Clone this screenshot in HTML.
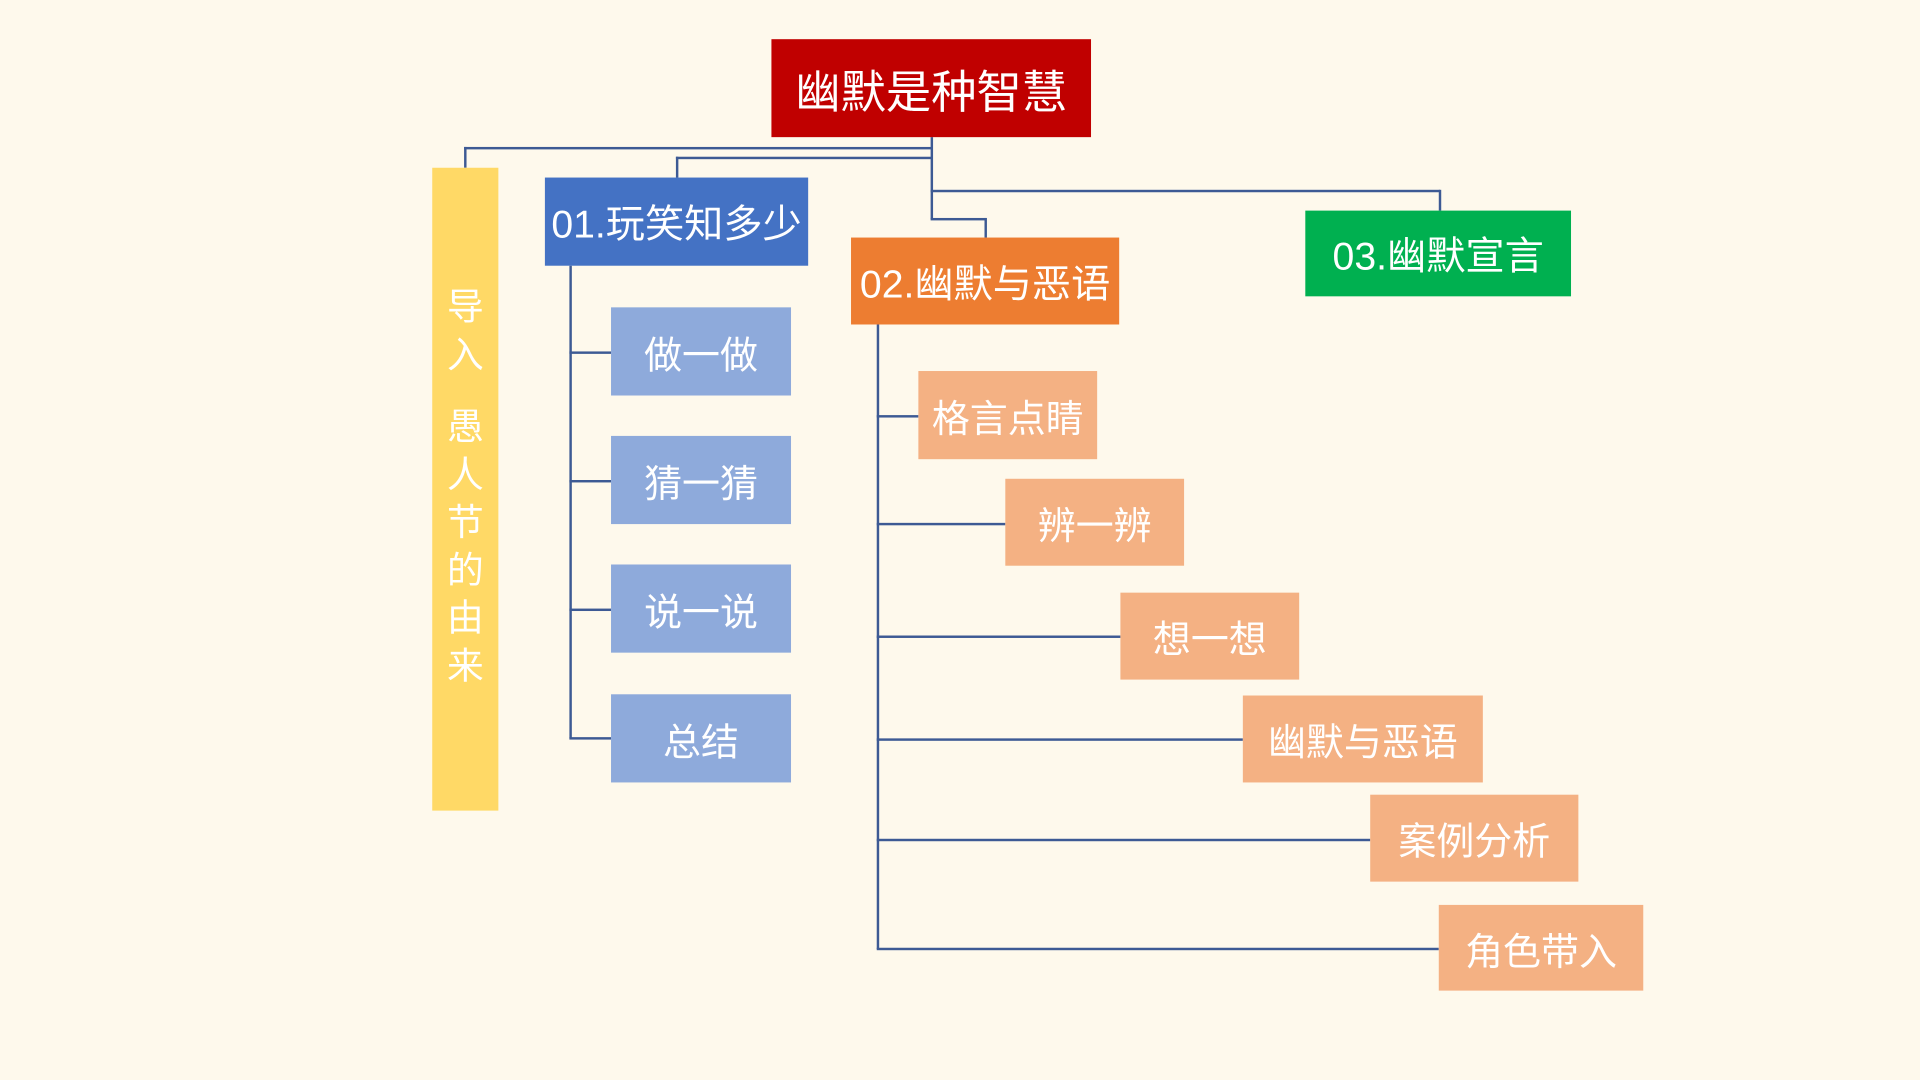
<!DOCTYPE html>
<html><head><meta charset="utf-8"><style>
html,body{margin:0;padding:0;width:1920px;height:1080px;overflow:hidden;background:#fef9ec;}
#c{position:absolute;left:0;top:0;width:1568px;height:882px;transform:scale(1.22449);transform-origin:0 0;font-family:"Liberation Sans","Noto Sans CJK SC",sans-serif;}
.b{position:absolute;color:#fff;display:flex;align-items:center;justify-content:center;white-space:nowrap;}
.l{position:absolute;background:#3d5a94;}
.h{height:1.6px}.v{width:1.6px}
</style></head><body><div id="c">
<!-- connectors -->
<div class="l v" style="left:760px;top:112px;height:67px"></div>
<div class="l h" style="left:379px;top:120px;width:382px"></div>
<div class="l v" style="left:379px;top:120px;height:17px"></div>
<div class="l h" style="left:552px;top:128px;width:209px"></div>
<div class="l v" style="left:552px;top:128px;height:17px"></div>
<div class="l h" style="left:760px;top:155px;width:416px"></div>
<div class="l v" style="left:1175px;top:155px;height:17px"></div>
<div class="l h" style="left:760px;top:178px;width:45px"></div>
<div class="l v" style="left:804px;top:178px;height:16px"></div>

<div class="l v" style="left:465px;top:217px;height:386px"></div>
<div class="l h" style="left:465px;top:287px;width:34px"></div>
<div class="l h" style="left:465px;top:392px;width:34px"></div>
<div class="l h" style="left:465px;top:497px;width:34px"></div>
<div class="l h" style="left:465px;top:602px;width:34px"></div>

<div class="l v" style="left:716px;top:265px;height:510px"></div>
<div class="l h" style="left:716px;top:339px;width:34px"></div>
<div class="l h" style="left:716px;top:427px;width:105px"></div>
<div class="l h" style="left:716px;top:519px;width:199px"></div>
<div class="l h" style="left:716px;top:603px;width:299px"></div>
<div class="l h" style="left:716px;top:685px;width:403px"></div>
<div class="l h" style="left:716px;top:774px;width:459px"></div>

<!-- boxes -->
<div class="b" style="left:630px;top:32px;width:261px;height:80px;background:#c00000;font-size:37px">幽默是种智慧</div>
<div class="b" style="left:353px;top:137px;width:54px;height:525px;background:#ffd966;font-size:30px;flex-direction:column;justify-content:flex-start;line-height:39px;padding-top:95px;box-sizing:border-box;white-space:normal">
<span>导</span><span>入</span><span style="height:20px"></span><span>愚</span><span>人</span><span>节</span><span>的</span><span>由</span><span>来</span></div>
<div class="b" style="left:445px;top:145px;width:215px;height:72px;background:#4472c4;font-size:32px">01.玩笑知多少</div>
<div class="b" style="left:499px;top:251px;width:147px;height:72px;background:#8eaadb;font-size:31px">做一做</div>
<div class="b" style="left:499px;top:356px;width:147px;height:72px;background:#8eaadb;font-size:31px">猜一猜</div>
<div class="b" style="left:499px;top:461px;width:147px;height:72px;background:#8eaadb;font-size:31px">说一说</div>
<div class="b" style="left:499px;top:567px;width:147px;height:72px;background:#8eaadb;font-size:31px">总结</div>
<div class="b" style="left:695px;top:194px;width:219px;height:71px;background:#ed7d31;font-size:32px">02.幽默与恶语</div>
<div class="b" style="left:750px;top:303px;width:146px;height:72px;background:#f4b183;font-size:31px">格言点睛</div>
<div class="b" style="left:821px;top:391px;width:146px;height:71px;background:#f4b183;font-size:31px">辨一辨</div>
<div class="b" style="left:915px;top:484px;width:146px;height:71px;background:#f4b183;font-size:31px">想一想</div>
<div class="b" style="left:1015px;top:568px;width:196px;height:71px;background:#f4b183;font-size:31px">幽默与恶语</div>
<div class="b" style="left:1119px;top:649px;width:170px;height:71px;background:#f4b183;font-size:31px">案例分析</div>
<div class="b" style="left:1175px;top:739px;width:167px;height:70px;background:#f4b183;font-size:31px">角色带入</div>
<div class="b" style="left:1066px;top:172px;width:217px;height:70px;background:#00b050;font-size:32px">03.幽默宣言</div>
</div></body></html>
